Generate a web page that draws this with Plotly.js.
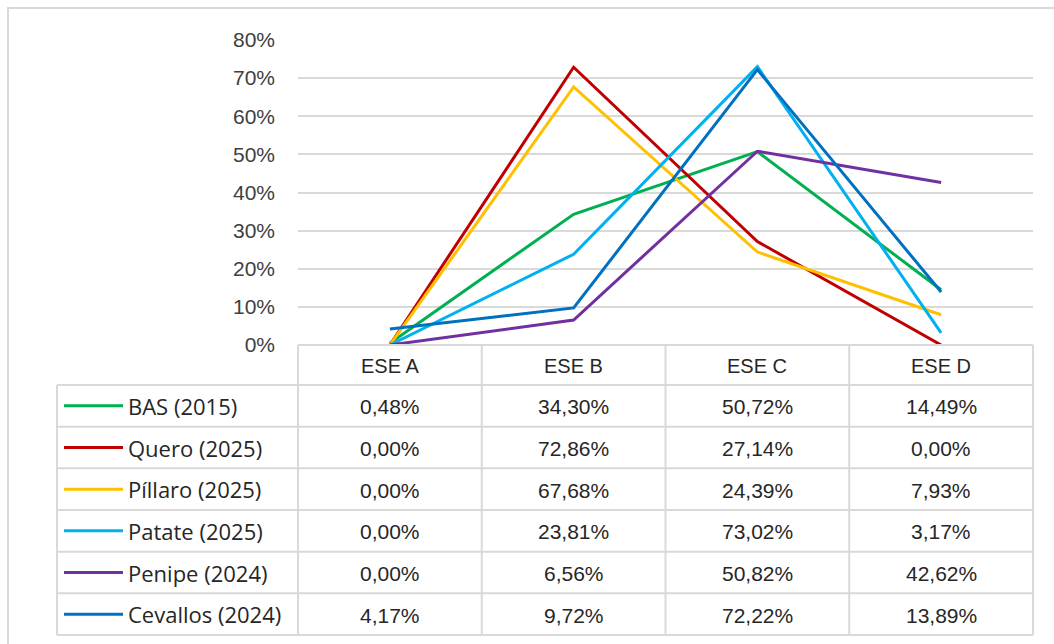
<!DOCTYPE html>
<html>
<head>
<meta charset="utf-8">
<script src="https://cdn.plot.ly/plotly-3.0.1.min.js"></script>
<style>html,body{margin:0;padding:0;background:#fff;}#chart{width:1054px;height:644px;}</style>
</head>
<body>
<div id="chart"></div>
<script>
// ---- Data ----
const categories = ["ESE A", "ESE B", "ESE C", "ESE D"];
const seriesNames = ["BAS (2015)", "Quero (2025)", "Píllaro (2025)", "Patate (2025)", "Penipe (2024)", "Cevallos (2024)"];
const bas = [0.48, 34.30, 50.72, 14.49];
const quero = [0.00, 72.86, 27.14, 0.00];
const pillaro = [0.00, 67.68, 24.39, 7.93];
const patate = [0.00, 23.81, 73.02, 3.17];
const penipe = [0.00, 6.56, 50.82, 42.62];
const cevallos = [4.17, 9.72, 72.22, 13.89];
const yTicks = [0, 10, 20, 30, 40, 50, 60, 70, 80];

const seriesValues = [bas, quero, pillaro, patate, penipe, cevallos];
const colors = ["#00B050", "#C00000", "#FFC000", "#00B0F0", "#7030A0", "#0070C0"];

// ---- Layout geometry (pixels) ----
const W = 1054, H = 644;
const L = 298, R = 1033, T = 40, B = 345;
const px = x => (x - L) / (R - L);
const py = y => (B - y) / (B - T);
const gridColor = "#d9d9d9";
const textColor = "#262626";
const tableLeft = 57;
const headerBottom = 385;
const rowH = 41.67;
const colW = (R - L) / categories.length;

const traces = seriesValues.map((vals, i) => ({
  type: "scatter",
  mode: "lines",
  x: categories,
  y: vals,
  name: seriesNames[i],
  line: {color: colors[i], width: 3},
  hoverinfo: "x+y+name"
}));

const shapes = [];
const annotations = [];
const hline = (x0, x1, y) => shapes.push({type: "line", xref: "paper", yref: "paper", x0: px(x0), x1: px(x1), y0: py(y), y1: py(y), line: {color: gridColor, width: 2}});
const vline = (x, y0, y1) => shapes.push({type: "line", xref: "paper", yref: "paper", x0: px(x), x1: px(x), y0: py(y0), y1: py(y1), line: {color: gridColor, width: 2}});

// outer chart border
shapes.push({type: "rect", xref: "paper", yref: "paper", x0: px(8), x1: px(1062), y0: py(8), y1: py(660), line: {color: gridColor, width: 2}, layer: "below"});

// table lines
hline(L, R, B);
for (let r = 0; r <= seriesNames.length; r++) hline(tableLeft, R, headerBottom + r * rowH);
const tableBottom = headerBottom + seriesNames.length * rowH;
vline(tableLeft, headerBottom, tableBottom);
for (let c = 0; c <= categories.length; c++) vline(L + c * colW, B, tableBottom);

// header labels
categories.forEach((cat, c) => {
  annotations.push({xref: "paper", yref: "paper", x: px(L + (c + 0.5) * colW), y: py((B + headerBottom) / 2 + 1), text: cat, showarrow: false, xanchor: "center", yanchor: "middle", font: {family: "Liberation Sans, Arial, sans-serif", size: 20, color: textColor}});
});

// rows
const fmt = v => v.toFixed(2).replace(".", ",") + "%";
seriesNames.forEach((name, r) => {
  const cy = headerBottom + (r + 0.5) * rowH;
  shapes.push({type: "line", xref: "paper", yref: "paper", x0: px(64), x1: px(123), y0: py(cy), y1: py(cy), line: {color: colors[r], width: 3}});
  annotations.push({xref: "paper", yref: "paper", x: px(126), y: py(cy), text: name, showarrow: false, xanchor: "left", yanchor: "middle", font: {family: "Open Sans, sans-serif", size: 22, color: textColor}});
  seriesValues[r].forEach((v, c) => {
    annotations.push({xref: "paper", yref: "paper", x: px(L + (c + 0.5) * colW), y: py(cy + 1), text: fmt(v), showarrow: false, xanchor: "center", yanchor: "middle", font: {family: "Liberation Sans, Arial, sans-serif", size: 21, color: textColor}});
  });
});

const layout = {
  width: W, height: H,
  margin: {l: L, r: W - R, t: T, b: H - B, pad: 0},
  paper_bgcolor: "#ffffff",
  plot_bgcolor: "#ffffff",
  showlegend: false,
  xaxis: {type: "category", range: [-0.5, 3.5], showticklabels: false, showgrid: false, zeroline: false, showline: false, ticks: ""},
  yaxis: {range: [0, 80], tickvals: yTicks, ticktext: yTicks.map(t => t + "%"), showgrid: true, gridcolor: gridColor, gridwidth: 2, zeroline: false, showline: false, ticks: "", ticklabelstandoff: 22, tickfont: {family: "Liberation Sans, Arial, sans-serif", size: 21, color: "#404040"}},
  shapes: shapes,
  annotations: annotations
};

Plotly.newPlot("chart", traces, layout, {displayModeBar: false, staticPlot: true});
</script>
</body>
</html>
